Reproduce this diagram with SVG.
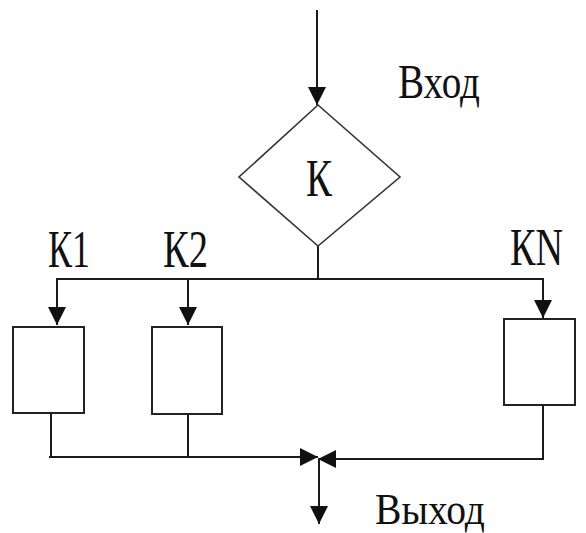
<svg xmlns="http://www.w3.org/2000/svg" width="586" height="533" viewBox="0 0 586 533">
<style>
.ln{stroke:#1a1a1a;stroke-width:2;fill:none}
.box{stroke:#222;stroke-width:2;fill:#fff}
.dia{stroke:#333;stroke-width:1.6;fill:#fff}
.t{font-family:"Liberation Serif","Times New Roman",serif;fill:#111}
</style>
<defs>
<marker id="ah" markerUnits="userSpaceOnUse" markerWidth="18" markerHeight="22" viewBox="0 0 18 22" refX="18" refY="9" orient="auto">
<path d="M0,0 L18,9 L0,18 Z" fill="#111"/>
</marker>
</defs>
<rect width="586" height="533" fill="#fff"/>
<g id="connectors">
<line class="ln" x1="317" y1="10" x2="317" y2="105" marker-end="url(#ah)"/>
<line class="ln" x1="318" y1="246" x2="318" y2="279"/>
<line class="ln" x1="56" y1="279" x2="544" y2="279"/>
<line class="ln" x1="57" y1="279" x2="57" y2="325" marker-end="url(#ah)"/>
<line class="ln" x1="188" y1="279" x2="188" y2="325" marker-end="url(#ah)"/>
<line class="ln" x1="543" y1="279" x2="543" y2="318" marker-end="url(#ah)"/>
<line class="ln" x1="51" y1="413" x2="51" y2="457"/>
<line class="ln" x1="188" y1="414" x2="188" y2="457"/>
<line class="ln" x1="543" y1="405" x2="543" y2="460"/>
<line class="ln" x1="49" y1="457" x2="318" y2="457" marker-end="url(#ah)"/>
<line class="ln" x1="544" y1="459" x2="318" y2="459" marker-end="url(#ah)"/>
<line class="ln" x1="319" y1="458" x2="319" y2="524" marker-end="url(#ah)"/>
</g>
<g id="node-K">
<polygon class="dia" points="318,105 400,177 318,246 239,177"/>
<text class="t" x="306" y="196" font-size="53" textLength="26" lengthAdjust="spacingAndGlyphs">К</text>
</g>
<g id="node-box1"><rect class="box" x="13" y="327" width="71" height="86"/></g>
<g id="node-box2"><rect class="box" x="152" y="327" width="70" height="87"/></g>
<g id="node-boxN"><rect class="box" x="504" y="319" width="71" height="86"/></g>
<g id="labels">
<text class="t" x="398" y="98" font-size="49" textLength="82" lengthAdjust="spacingAndGlyphs">Вход</text>
<text class="t" x="48" y="267" font-size="52" textLength="42" lengthAdjust="spacingAndGlyphs">К1</text>
<text class="t" x="163" y="267" font-size="52" textLength="45" lengthAdjust="spacingAndGlyphs">К2</text>
<text class="t" x="510" y="265" font-size="52" textLength="53" lengthAdjust="spacingAndGlyphs">КN</text>
<text class="t" x="375" y="524" font-size="44" textLength="110" lengthAdjust="spacingAndGlyphs">Выход</text>
</g>
</svg>
